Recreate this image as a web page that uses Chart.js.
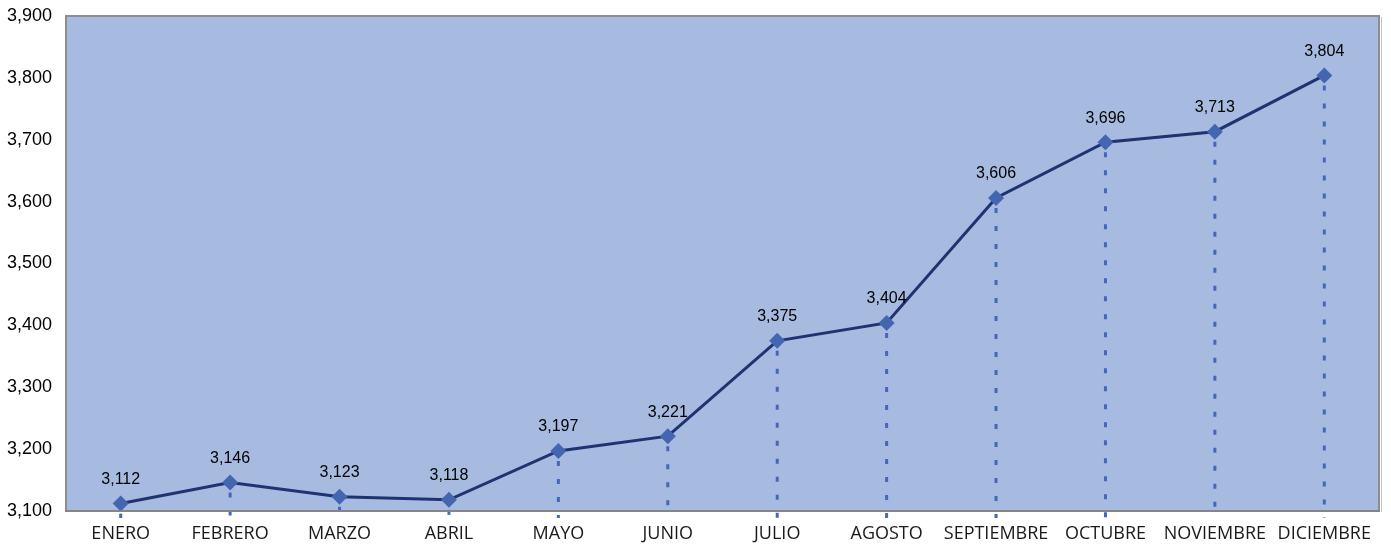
<!DOCTYPE html>
<html>
<head>
<meta charset="utf-8">
<script src="https://cdn.jsdelivr.net/npm/chart.js@4"></script>
<style>
  html, body { margin: 0; padding: 0; background: #ffffff; }
  #wrap { width: 1391px; height: 544px; position: relative; }
</style>
</head>
<body>
<div id="wrap"><canvas id="c" width="1391" height="544"></canvas></div>
<script>
// Monthly values
const months = ['ENERO', 'FEBRERO', 'MARZO', 'ABRIL', 'MAYO', 'JUNIO', 'JULIO', 'AGOSTO', 'SEPTIEMBRE', 'OCTUBRE', 'NOVIEMBRE', 'DICIEMBRE'];
const values = [3112, 3146, 3123, 3118, 3197, 3221, 3375, 3404, 3606, 3696, 3713, 3804];
const yMin = 3100;
const yMax = 3900;
const yStep = 100;

const fmt = v => v.toLocaleString('en-US');

// Plot-area background and frame
const plotFrame = {
  id: 'plotFrame',
  beforeDraw(chart) {
    const { ctx, chartArea: a } = chart;
    ctx.save();
    ctx.fillStyle = '#a7bbe0';
    ctx.fillRect(a.left, a.top, a.right - a.left, a.bottom - a.top);
    ctx.strokeStyle = '#8e8e8e';
    ctx.lineWidth = 2;
    ctx.beginPath();
    ctx.moveTo(a.left, a.bottom);
    ctx.lineTo(a.left, a.top);
    ctx.lineTo(a.right, a.top);
    ctx.lineTo(a.right, a.bottom);
    ctx.stroke();
    // soft shadow on the right side
    ctx.strokeStyle = '#c4c4c4';
    ctx.lineWidth = 1;
    ctx.beginPath();
    ctx.moveTo(a.right + 2.5, a.top + 1);
    ctx.lineTo(a.right + 2.5, a.bottom + 1);
    ctx.stroke();
    ctx.restore();
  }
};

// Dotted drop lines from each point to the category axis
const dropLines = {
  id: 'dropLines',
  beforeDatasetsDraw(chart) {
    const { ctx, chartArea: a } = chart;
    const meta = chart.getDatasetMeta(0);
    ctx.save();
    ctx.strokeStyle = '#4466bb';
    ctx.lineWidth = 3;
    ctx.setLineDash([5, 13]);
    meta.data.forEach(pt => {
      ctx.beginPath();
      ctx.moveTo(pt.x, pt.y + 10);
      ctx.lineTo(pt.x, a.bottom + 7);
      ctx.stroke();
    });
    ctx.restore();
  },
  afterDraw(chart) {
    const { ctx, chartArea: a } = chart;
    // category axis line
    ctx.save();
    ctx.strokeStyle = '#858585';
    ctx.lineWidth = 2;
    ctx.beginPath();
    ctx.moveTo(a.left - 1, a.bottom);
    ctx.lineTo(a.right + 1, a.bottom);
    ctx.stroke();
    ctx.restore();
  }
};

// Value labels above each point
const valueLabels = {
  id: 'valueLabels',
  afterDatasetsDraw(chart) {
    const { ctx } = chart;
    const meta = chart.getDatasetMeta(0);
    ctx.save();
    ctx.fillStyle = '#000000';
    ctx.font = '16px "Liberation Sans", Arial, sans-serif';
    ctx.textAlign = 'center';
    ctx.textBaseline = 'middle';
    meta.data.forEach((pt, i) => {
      ctx.fillText(fmt(values[i]), pt.x, pt.y - 24);
    });
    ctx.restore();
  }
};

new Chart(document.getElementById('c'), {
  type: 'line',
  data: {
    labels: months,
    datasets: [{
      data: values,
      borderColor: '#1f3372',
      borderWidth: 3,
      tension: 0,
      pointStyle: 'rectRot',
      pointRadius: 8,
      pointHoverRadius: 8,
      pointBackgroundColor: '#4466b0',
      pointBorderColor: '#4466b0',
      pointBorderWidth: 0,
      clip: false
    }]
  },
  options: {
    responsive: false,
    animation: false,
    events: [],
    layout: { padding: { top: 16, right: 12, left: 0, bottom: 0 } },
    plugins: { legend: { display: false }, tooltip: { enabled: false } },
    scales: {
      x: {
        type: 'category',
        offset: true,
        border: { display: false },
        grid: { display: false, drawTicks: false },
        ticks: {
          color: '#1a1a1a',
          padding: 12,
          maxRotation: 0,
          autoSkip: false,
          font: { family: '"Open Sans", "Noto Sans", sans-serif', size: 18 }
        },
        afterFit(s) { s.height = 33; s.paddingLeft = 0; s.paddingRight = 0; }
      },
      y: {
        min: yMin,
        max: yMax,
        border: { display: false },
        grid: { display: false, drawTicks: false },
        ticks: {
          stepSize: yStep,
          color: '#000000',
          padding: 14,
          font: { family: '"Liberation Sans", Arial, sans-serif', size: 18 },
          callback: v => fmt(v)
        },
        afterFit(s) { s.width = 66; s.paddingTop = 0; s.paddingBottom = 0; }
      }
    }
  },
  plugins: [plotFrame, dropLines, valueLabels]
});
</script>
</body>
</html>
